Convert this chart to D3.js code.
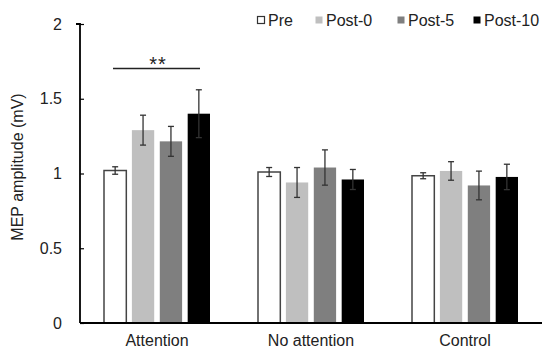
<!DOCTYPE html>
<html>
<head>
<meta charset="utf-8">
<script src="https://cdn.jsdelivr.net/npm/d3@7"></script>
<style>
  body { margin: 0; background: #fff; }
  svg { display: block; font-family: "Liberation Sans", Arial, sans-serif; }
</style>
</head>
<body>
<svg id="chart" width="543" height="349"></svg>
<script>
const groups = ["Attention", "No attention", "Control"];
const series = ["Pre", "Post-0", "Post-5", "Post-10"];
const colors = ["#ffffff", "#bfbfbf", "#7f7f7f", "#000000"];

// mean MEP amplitude per group, in series order
const means = [
  [1.02, 1.29, 1.215, 1.40],
  [1.01, 0.94, 1.04, 0.96],
  [0.985, 1.017, 0.92, 0.977]
];
// error bar half length
const errs = [
  [0.025, 0.10, 0.10, 0.16],
  [0.03, 0.10, 0.118, 0.067],
  [0.02, 0.062, 0.096, 0.085]
];
const yTicks = [0, 0.5, 1, 1.5, 2];

const svg = d3.select("#chart");

const x0 = d3.scaleBand().domain(groups).range([80, 542]);
const x1 = d3.scaleBand().domain(series).range([24, 130]).paddingInner(0.2);
const y = d3.scaleLinear().domain([0, 2]).range([323, 24]);

// y axis
const yAxis = svg.append("g")
  .attr("transform", "translate(80,0)")
  .call(d3.axisLeft(y).tickValues(yTicks).tickSize(4).tickFormat(d3.format("~g")));
yAxis.select(".domain").attr("d", "M-4," + y(2) + "H0V" + y(0)).style("stroke", "#000").style("stroke-width", 1.8);
yAxis.selectAll(".tick line").attr("x2", 4).style("stroke-width", 1.2);
yAxis.selectAll(".tick text")
  .attr("x", -18)
  .style("font-size", "16px")
  .style("fill", "#222");

svg.append("text")
  .attr("transform", "translate(22.5,167) rotate(-90)")
  .attr("text-anchor", "middle")
  .style("font-size", "16px")
  .style("fill", "#222")
  .text("MEP amplitude (mV)");

// bars
const g = svg.selectAll(".grp")
  .data(groups)
  .join("g")
  .attr("class", "grp")
  .attr("transform", d => "translate(" + x0(d) + ",0)");

g.selectAll("rect")
  .data((d, i) => series.map((s, j) => ({ s, j, v: means[i][j], e: errs[i][j] })))
  .join("rect")
  .attr("x", d => x1(d.s))
  .attr("y", d => y(d.v))
  .attr("width", x1.bandwidth())
  .attr("height", d => y(0) - y(d.v))
  .attr("fill", d => colors[d.j])
  .attr("stroke", d => d.j === 0 ? "#444" : "none")
  .attr("stroke-width", 1.5);

// error bars
const eb = g.selectAll(".err")
  .data((d, i) => series.map((s, j) => ({ s, j, v: means[i][j], e: errs[i][j] })))
  .join("g")
  .attr("class", "err")
  .attr("stroke", "#333")
  .attr("stroke-width", 1.3);
eb.append("line")
  .attr("x1", d => x1(d.s) + x1.bandwidth() / 2)
  .attr("x2", d => x1(d.s) + x1.bandwidth() / 2)
  .attr("y1", d => y(d.v - d.e))
  .attr("y2", d => y(d.v + d.e));
[1, -1].forEach(sign => {
  eb.append("line")
    .attr("x1", d => x1(d.s) + x1.bandwidth() / 2 - 3)
    .attr("x2", d => x1(d.s) + x1.bandwidth() / 2 + 3)
    .attr("y1", d => y(d.v + sign * d.e))
    .attr("y2", d => y(d.v + sign * d.e));
});

// x axis
svg.append("line")
  .attr("x1", 80).attr("x2", 542)
  .attr("y1", y(0)).attr("y2", y(0))
  .attr("stroke", "#000").attr("stroke-width", 1.8);

svg.selectAll(".xlab")
  .data(groups)
  .join("text")
  .attr("class", "xlab")
  .attr("x", d => x0(d) + x0.bandwidth() / 2)
  .attr("y", 346)
  .attr("text-anchor", "middle")
  .style("font-size", "16px")
  .style("fill", "#222")
  .text(d => d);

// significance bracket over Attention
const att = x0("Attention");
svg.append("line")
  .attr("x1", att + 33).attr("x2", att + 120)
  .attr("y1", 68.5).attr("y2", 68.5)
  .attr("stroke", "#222").attr("stroke-width", 1.3);
svg.append("text")
  .attr("x", att + 78)
  .attr("y", 71)
  .attr("text-anchor", "middle")
  .style("font-size", "20px")
  .style("letter-spacing", "1px")
  .style("fill", "#222")
  .text("**");

// legend
const legX = [257, 315, 397, 473];
const leg = svg.selectAll(".leg")
  .data(series)
  .join("g")
  .attr("class", "leg")
  .attr("transform", (d, i) => "translate(" + legX[i] + ",0)");
leg.append("rect")
  .attr("x", 0.5).attr("y", 16.5)
  .attr("width", 7).attr("height", 7)
  .attr("fill", (d, i) => colors[i])
  .attr("stroke", (d, i) => i === 0 ? "#333" : "none")
  .attr("stroke-width", 1.2);
leg.append("text")
  .attr("x", 11)
  .attr("y", 26)
  .style("font-size", "16px")
  .style("fill", "#222")
  .text(d => d);
</script>
</body>
</html>
